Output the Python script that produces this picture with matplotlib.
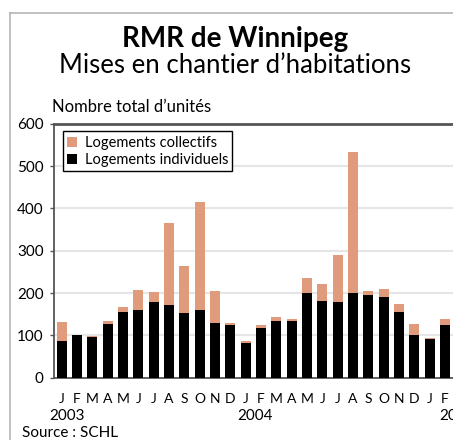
import numpy as np
import matplotlib
matplotlib.use("Agg")
import matplotlib.pyplot as plt
from matplotlib.lines import Line2D

plt.rcParams['font.family'] = ['Lato', 'DejaVu Sans']

# monthly housing starts, Jan 2003 - Feb 2005
months = ['J', 'F', 'M', 'A', 'M', 'J', 'J', 'A', 'S', 'O', 'N', 'D',
          'J', 'F', 'M', 'A', 'M', 'J', 'J', 'A', 'S', 'O', 'N', 'D',
          'J', 'F']
years = ['2003', '2004', '2005']
individuels = [87, 101, 97, 127, 156, 159, 178, 172, 153, 159, 130, 124,
               83, 118, 133, 134, 201, 182, 178, 201, 195, 192, 156, 101,
               91, 124]
collectifs = [44, 1, 2, 7, 11, 48, 24, 194, 112, 256, 76, 5,
              4, 6, 10, 4, 34, 39, 112, 332, 11, 17, 18, 27,
              4, 14]
yticks = [0, 100, 200, 300, 400, 500, 600]

col_color = '#e09b7d'
ind_color = '#000000'

fig = plt.figure(figsize=(4.53, 4.40), dpi=100)
W, H = 453.0, 440.0

# outer frame (cropped at right/bottom)
fig.add_artist(Line2D([9.5 / W, 9.5 / W], [0, 1 - 13 / H], transform=fig.transFigure,
                      color='#b5b5b5', lw=1.2))
fig.add_artist(Line2D([9.5 / W, 1], [1 - 13 / H, 1 - 13 / H], transform=fig.transFigure,
                      color='#b5b5b5', lw=1.2))

ax = fig.add_axes([53.5 / W, 62.2 / H, 1 - 53.5 / W, (378 - 124) / H])

x = np.arange(len(months))
ax.bar(x, individuels, width=0.65, color=ind_color, label='Logements individuels', zorder=3)
ax.bar(x, collectifs, width=0.65, bottom=individuels, color=col_color,
       label='Logements collectifs', zorder=3)

ax.set_xlim(-0.535, 25.53)
ax.set_ylim(0, 600)
ax.set_yticks(yticks)
ax.set_xticks(x)
ax.set_xticklabels(months)
ax.tick_params(axis='x', length=0, pad=11, labelsize=10)
ax.tick_params(axis='y', length=3, width=1, color='#555555', pad=4, labelsize=11)
ax.yaxis.grid(True, color='#e6e6e6', lw=1.5, zorder=0)
ax.set_axisbelow(True)

for s in ['left', 'bottom']:
    ax.spines[s].set_color('#555555')
    ax.spines[s].set_linewidth(1.3)
ax.spines['top'].set_color('#555555')
ax.spines['top'].set_linewidth(2)
ax.spines['right'].set_visible(False)

# year labels under the months
for xi, yr in zip([0.38, 12.6, 25.8], years):
    ax.text(xi, -0.122, yr, transform=ax.get_xaxis_transform(), ha='center', va='top',
            fontsize=11, clip_on=False)

handles, labels = ax.get_legend_handles_labels()
leg = ax.legend(handles[::-1], labels[::-1], loc='upper left', bbox_to_anchor=(0.023, 0.970),
                borderaxespad=0, fancybox=False, framealpha=1, edgecolor='black',
                fontsize=10.5, handlelength=0.7, handleheight=0.7, handletextpad=0.5,
                labelspacing=0.2, borderpad=0.3)
leg.get_frame().set_linewidth(1.0)

fig.text(235 / W, 1 - 26 / H, 'RMR de Winnipeg', ha='center', va='top',
         fontsize=20, fontweight='bold')
fig.text(235 / W, 1 - 53 / H, 'Mises en chantier d\u2019habitations', ha='center', va='top',
         fontsize=18.5)
fig.text(52 / W, 1 - 99 / H, 'Nombre total d\u2019unit\u00e9s', ha='left', va='top', fontsize=12)
fig.text(22 / W, 1 - 426 / H, 'Source : SCHL', ha='left', va='top', fontsize=11)

fig.savefig('out.png', dpi=100)
